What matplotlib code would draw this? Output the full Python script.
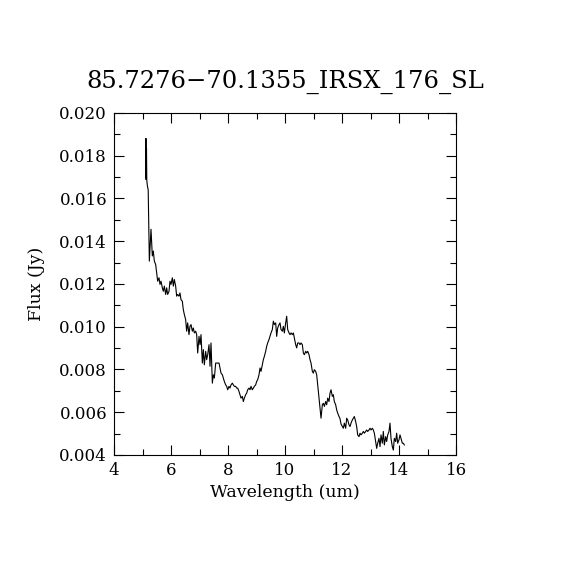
import matplotlib
matplotlib.use("Agg")
import matplotlib.pyplot as plt
from matplotlib.ticker import MultipleLocator

title = "85.7276\u221270.1355_IRSX_176_SL"

# spectrum
wavelength = [
    5.11, 5.12, 5.13, 5.14, 5.15, 5.17, 5.20, 5.24, 5.298, 5.345, 5.380, 5.415,
    5.462, 5.497, 5.532, 5.579, 5.614, 5.649, 5.696, 5.731, 5.766, 5.813, 5.848,
    5.883, 5.930, 5.965, 6.000, 6.047, 6.082, 6.117, 6.163, 6.199, 6.234, 6.280,
    6.315, 6.351, 6.397, 6.432, 6.468, 6.514, 6.549, 6.585, 6.631, 6.666, 6.702,
    6.749, 6.784, 6.819, 6.866, 6.901, 6.936, 6.983, 7.018, 7.053, 7.100, 7.135,
    7.170, 7.217, 7.252, 7.287, 7.334, 7.369, 7.404, 7.451, 7.486, 7.521, 7.568,
    7.603, 7.685, 7.720, 7.755, 7.802, 7.837, 7.872, 7.918, 7.954, 7.989, 8.035,
    8.070, 8.106, 8.152, 8.187, 8.223, 8.269, 8.304, 8.340, 8.386, 8.421, 8.457,
    8.503, 8.538, 8.573, 8.620, 8.655, 8.690, 8.737, 8.772, 8.807, 8.854, 8.889,
    8.924, 8.971, 9.006, 9.041, 9.088, 9.123, 9.158, 9.205, 9.240, 9.275, 9.322,
    9.357, 9.392, 9.439, 9.474, 9.509, 9.556, 9.591, 9.626, 9.673, 9.708, 9.743,
    9.790, 9.825, 9.860, 9.907, 9.942, 9.977, 10.024, 10.059, 10.094, 10.141,
    10.176, 10.211, 10.258, 10.293, 10.328, 10.375, 10.410, 10.445, 10.492,
    10.527, 10.562, 10.609, 10.644, 10.679, 10.726, 10.761, 10.796, 10.843,
    10.878, 10.913, 10.960, 10.995, 11.030, 11.077, 11.112, 11.147, 11.193,
    11.229, 11.264, 11.310, 11.345, 11.381, 11.427, 11.462, 11.498, 11.544,
    11.579, 11.615, 11.661, 11.696, 11.731, 11.778, 11.813, 11.848, 11.895,
    11.930, 11.965, 12.012, 12.047, 12.082, 12.129, 12.164, 12.199, 12.246,
    12.281, 12.316, 12.363, 12.398, 12.433, 12.480, 12.515, 12.550, 12.597,
    12.632, 12.667, 12.714, 12.749, 12.784, 12.831, 12.866, 12.901, 12.948,
    12.983, 13.018, 13.065, 13.100, 13.135, 13.181, 13.217, 13.252, 13.298,
    13.334, 13.369, 13.415, 13.450, 13.486, 13.532, 13.567, 13.603, 13.649,
    13.684, 13.719, 13.766, 13.801, 13.836, 13.883, 13.918, 13.953, 14.000,
    14.035, 14.070, 14.117, 14.152, 14.187,
]
flux = [
    0.01690, 0.01881, 0.01700, 0.01834, 0.01687, 0.01660, 0.01640, 0.01307,
    0.01456, 0.01331, 0.01354, 0.01307, 0.01291, 0.01252, 0.01213, 0.01229,
    0.01198, 0.01213, 0.01182, 0.01166, 0.01190, 0.01151, 0.01182, 0.01151,
    0.01166, 0.01213, 0.01198, 0.01229, 0.01190, 0.01221, 0.01190, 0.01143,
    0.01151, 0.01143, 0.01158, 0.01127, 0.01119, 0.01080, 0.01057, 0.01033,
    0.00979, 0.01018, 0.00963, 0.01002, 0.01010, 0.00979, 0.00994, 0.00971,
    0.00979, 0.00963, 0.00877, 0.00955, 0.00916, 0.00963, 0.00830, 0.00893,
    0.00822, 0.00885, 0.00846, 0.00869, 0.00916, 0.00815, 0.00924, 0.00736,
    0.00775, 0.00760, 0.00830, 0.00830, 0.00830, 0.00807, 0.00783, 0.00775,
    0.00760, 0.00744, 0.00728, 0.00721, 0.00705, 0.00721, 0.00713, 0.00728,
    0.00736, 0.00728, 0.00721, 0.00721, 0.00713, 0.00713, 0.00697, 0.00682,
    0.00666, 0.00674, 0.00650, 0.00666, 0.00682, 0.00689, 0.00705, 0.00713,
    0.00705, 0.00721, 0.00705, 0.00713, 0.00721, 0.00728, 0.00744, 0.00752,
    0.00775, 0.00807, 0.00791, 0.00822, 0.00846, 0.00861, 0.00885, 0.00908,
    0.00924, 0.00940, 0.00955, 0.00971, 0.00987, 0.01026, 0.01010, 0.01018,
    0.00955, 0.00994, 0.01010, 0.01018, 0.00987, 0.00979, 0.01002, 0.00971,
    0.01018, 0.01049, 0.00987, 0.00971, 0.00963, 0.00971, 0.00963, 0.00971,
    0.00947, 0.00916, 0.00901, 0.00924, 0.00924, 0.00916, 0.00924, 0.00916,
    0.00877, 0.00869, 0.00885, 0.00877, 0.00885, 0.00869, 0.00846, 0.00830,
    0.00791, 0.00783, 0.00799, 0.00791, 0.00775, 0.00728, 0.00666, 0.00619,
    0.00572, 0.00635, 0.00642, 0.00627, 0.00650, 0.00635, 0.00666, 0.00650,
    0.00689, 0.00705, 0.00674, 0.00682, 0.00650, 0.00635, 0.00611, 0.00596,
    0.00580, 0.00570, 0.00545, 0.00533, 0.00525, 0.00549, 0.00525, 0.00572,
    0.00564, 0.00541, 0.00533, 0.00549, 0.00564, 0.00572, 0.00580, 0.00556,
    0.00533, 0.00494, 0.00486, 0.00502, 0.00494, 0.00502, 0.00510, 0.00502,
    0.00510, 0.00517, 0.00510, 0.00517, 0.00525, 0.00517, 0.00525, 0.00517,
    0.00502, 0.00463, 0.00431, 0.00455, 0.00478, 0.00439, 0.00494, 0.00455,
    0.00510, 0.00447, 0.00486, 0.00463, 0.00494, 0.00510, 0.00549, 0.00478,
    0.00439, 0.00423, 0.00478, 0.00463, 0.00502, 0.00455, 0.00471, 0.00494,
    0.00478, 0.00455, 0.00455, 0.00447,
]

plt.rcParams['font.family'] = ['DejaVu Serif']

fig = plt.figure(figsize=(5.7, 5.7), dpi=100)
ax = fig.add_axes([0.2, 0.2018, 0.6, 0.6])
ax.plot(wavelength, flux, color='black', linewidth=0.8)

ax.set_xlim(4, 16)
ax.set_ylim(0.004, 0.020)
ax.xaxis.set_major_locator(MultipleLocator(2))
ax.xaxis.set_minor_locator(MultipleLocator(1))
ax.yaxis.set_major_locator(MultipleLocator(0.002))
ax.yaxis.set_minor_locator(MultipleLocator(0.001))
ax.yaxis.set_major_formatter(plt.FormatStrFormatter('%.3f'))
ax.tick_params(which='both', direction='in', top=True, right=True,
               labelsize=12, width=0.8)
ax.tick_params(which='major', length=7, pad=5)
ax.tick_params(which='minor', length=4)
for s in ax.spines.values():
    s.set_linewidth(0.8)

ax.set_title(title, fontsize=17.5, pad=18)
ax.set_xlabel("Wavelength (um)", fontsize=12.5, labelpad=4)
ax.set_ylabel("Flux (Jy)", fontsize=12.5, labelpad=10)

fig.savefig("out.png", dpi=100)
